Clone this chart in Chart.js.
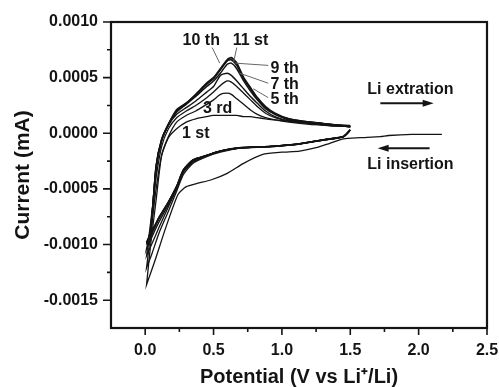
<!DOCTYPE html>
<html>
<head>
<meta charset="utf-8">
<script src="https://cdn.jsdelivr.net/npm/chart.js@4.4.1/dist/chart.umd.min.js"></script>
<style>
  html, body { margin: 0; padding: 0; background: #fff; }
  #wrap { width: 499px; height: 387px; }
</style>
</head>
<body>
<div id="wrap"><canvas id="cvChart"></canvas></div>
<script>
// ticks (V and mA)
const xMajorTicks = [0, 0.5, 1.0, 1.5, 2.0, 2.5];
const xMinorTicks = [0.25, 0.75, 1.25, 1.75, 2.25];
const yMajorTicks = [-0.0015, -0.0010, -0.0005, 0, 0.0005, 0.0010];
const yMinorTicks = [-0.00125, -0.00075, -0.00025, 0.00025, 0.00075];

// first cathodic sweep starts at open circuit
const firstSweepV = [2.17, 1.95, 1.78, 1.72, 1.57, 1.45, 1.35, 1.25, 1.13, 1.0, 0.86, 0.72, 0.6, 0.48, 0.38, 0.3, 0.24, 0.15, 0.07, 0.01];
const firstSweepI = [-0.00001, -0.00001, -0.00002, -0.00003, -0.00004, -0.00005, -0.00009, -0.00013, -0.00016, -0.00017, -0.00019, -0.00027, -0.00036, -0.00042, -0.00045, -0.00048, -0.00055, -0.00085, -0.00115, -0.00136];

// potentials of cathodic (1.5 -> 0) and anodic (0 -> 1.5) sweeps
const cathodicV = [1.5, 1.45, 1.3, 1.1, 0.9, 0.7, 0.55, 0.45, 0.35, 0.28, 0.23, 0.17, 0.1, 0.05, 0.01];
const anodicV = [0.01, 0.04, 0.08, 0.12, 0.17, 0.23, 0.3, 0.37, 0.45, 0.5, 0.55, 0.6, 0.63, 0.67, 0.72, 0.77, 0.82, 0.88, 0.95, 1.05, 1.2, 1.35, 1.5];

// currents per cycle
const cycle1Anodic = [-0.00136, -0.001, -0.0006, -0.0002, -0.00004, 0.00004, 0.0001, 0.00013, 0.00015, 0.00016, 0.00016, 0.00016, 0.00016, 0.00016, 0.00015, 0.00015, 0.00014, 0.00013, 0.00012, 0.00011, 0.0001, 0.00008, 0.00007];
const cycle3Cathodic = [0.00003, -0.00003, -0.00006, -0.0001, -0.00012, -0.00013, -0.00017, -0.00021, -0.00027, -0.00037, -0.00052, -0.0007, -0.0009, -0.00108, -0.00121];
const cycle3Anodic = [-0.00121, -0.0009, -0.0005, -0.0002, -0.00003, 0.0001, 0.00016, 0.0002, 0.00026, 0.0003, 0.00035, 0.00036, 0.00035, 0.00031, 0.00026, 0.00021, 0.00017, 0.00014, 0.00012, 0.0001, 0.00008, 0.00007, 0.00006];
const cycle5Cathodic = [0.00003, -0.00003, -0.00006, -0.0001, -0.00012, -0.00013, -0.00016, -0.0002, -0.00026, -0.00035, -0.0005, -0.00066, -0.00085, -0.00099, -0.0011];
const cycle5Anodic = [-0.0011, -0.0008, -0.0004, -0.00012, 0.00004, 0.00014, 0.0002, 0.00025, 0.00032, 0.00037, 0.00043, 0.00047, 0.00046, 0.00042, 0.00036, 0.0003, 0.00024, 0.00018, 0.00014, 0.00011, 0.00009, 0.00007, 0.00006];
const cycle7Cathodic = [0.00003, -0.00003, -0.00006, -0.0001, -0.00012, -0.00013, -0.00016, -0.0002, -0.00025, -0.00034, -0.00049, -0.00064, -0.0008, -0.00093, -0.00104];
const cycle7Anodic = [-0.00104, -0.00085, -0.00032, -0.00007, 0.00007, 0.00017, 0.00023, 0.00029, 0.00037, 0.00042, 0.00052, 0.00054, 0.00052, 0.00047, 0.0004, 0.00033, 0.00027, 0.0002, 0.00015, 0.00011, 0.00009, 0.00007, 0.00006];
const cycle9Cathodic = [0.00003, -0.00003, -0.00006, -0.0001, -0.00012, -0.00013, -0.00016, -0.0002, -0.00024, -0.00033, -0.00048, -0.00062, -0.00077, -0.0009, -0.001];
const cycle9Anodic = [-0.001, -0.00088, -0.0003, -0.00006, 0.00008, 0.00019, 0.00026, 0.00033, 0.00042, 0.00047, 0.00054, 0.00062, 0.00063, 0.00058, 0.00047, 0.00038, 0.0003, 0.00022, 0.00017, 0.00012, 0.0001, 0.00008, 0.00006];
const cycle10Cathodic = [0.00003, -0.00003, -0.00006, -0.0001, -0.00012, -0.00013, -0.00016, -0.0002, -0.00024, -0.00033, -0.00048, -0.00062, -0.00076, -0.00089, -0.00099];
const cycle10Anodic = [-0.00099, -0.00089, -0.0003, -0.00006, 0.00008, 0.0002, 0.00027, 0.00034, 0.00044, 0.00049, 0.00057, 0.00065, 0.00066, 0.00061, 0.00049, 0.0004, 0.00031, 0.00023, 0.00017, 0.00013, 0.0001, 0.00008, 0.00006];
const cycle11Cathodic = [0.00003, -0.00003, -0.00006, -0.0001, -0.00012, -0.00013, -0.00016, -0.0002, -0.00024, -0.00033, -0.00048, -0.00062, -0.00076, -0.00088, -0.00098];
const cycle11Anodic = [-0.00098, -0.0009, -0.0003, -0.00006, 0.00008, 0.00021, 0.00027, 0.00035, 0.00045, 0.0005, 0.00058, 0.00066, 0.00068, 0.00063, 0.0005, 0.00041, 0.00032, 0.00024, 0.00018, 0.00013, 0.0001, 0.00008, 0.00006];

const FONT = '"Liberation Sans", Arial, sans-serif';
const INK = '#141414';

const toPts = (vs, is) => vs.map((v, k) => ({ x: v, y: is[k] }));

function cycleLine(cathV, cathI, anodI, width) {
  return {
    data: toPts(cathV, cathI).concat(toPts(anodicV, anodI)),
    showLine: true,
    borderColor: INK,
    borderWidth: width,
    pointRadius: 0,
    tension: 0.2,
    fill: false
  };
}

const datasets = [
  cycleLine(firstSweepV, firstSweepI, cycle1Anodic, 1.3),
  cycleLine(cathodicV, cycle3Cathodic, cycle3Anodic, 1.3),
  cycleLine(cathodicV, cycle5Cathodic, cycle5Anodic, 1.3),
  cycleLine(cathodicV, cycle7Cathodic, cycle7Anodic, 1.4),
  cycleLine(cathodicV, cycle9Cathodic, cycle9Anodic, 1.5),
  cycleLine(cathodicV, cycle10Cathodic, cycle10Anodic, 1.6),
  cycleLine(cathodicV, cycle11Cathodic, cycle11Anodic, 1.8)
];

// text labels placed in data units
const notes = [
  { text: '10 th', x: 0.41, y: 0.00083 },
  { text: '11 st', x: 0.77, y: 0.00083 },
  { text: '9 th', x: 1.02, y: 0.00058 },
  { text: '7 th', x: 1.02, y: 0.00044 },
  { text: '5 th', x: 1.02, y: 0.00030 },
  { text: '3 rd', x: 0.53, y: 0.00022 },
  { text: '1 st', x: 0.37, y: 0.0 },
  { text: 'Li extration', x: 1.94, y: 0.00039 },
  { text: 'Li insertion', x: 1.94, y: -0.00028 }
];
// leader lines [x1, y1, x2, y2]
const leaders = [
  [0.49, 0.00077, 0.545, 0.00063],
  [0.67, 0.00077, 0.645, 0.00063],
  [0.90, 0.00061, 0.66, 0.00063],
  [0.90, 0.00045, 0.69, 0.00054],
  [0.90, 0.00032, 0.79, 0.00040]
];
// arrows [from x, to x, y]
const arrows = [
  [1.72, 2.11, 0.00027],
  [2.08, 1.70, -0.000134]
];

const framePlugin = {
  id: 'frame',
  afterDraw(chart) {
    const { ctx, chartArea: a, scales: { x, y } } = chart;
    ctx.save();
    ctx.strokeStyle = INK;
    ctx.lineWidth = 2.2;
    ctx.strokeRect(a.left, a.top, a.right - a.left, a.bottom - a.top);

    // tick marks, outward
    ctx.lineWidth = 1.6;
    ctx.beginPath();
    xMajorTicks.forEach(v => { const p = x.getPixelForValue(v); ctx.moveTo(p, a.bottom); ctx.lineTo(p, a.bottom + 7); });
    xMinorTicks.forEach(v => { const p = x.getPixelForValue(v); ctx.moveTo(p, a.bottom); ctx.lineTo(p, a.bottom + 4); });
    yMajorTicks.forEach(v => { const p = y.getPixelForValue(v); ctx.moveTo(a.left, p); ctx.lineTo(a.left - 8, p); });
    yMinorTicks.forEach(v => { const p = y.getPixelForValue(v); ctx.moveTo(a.left, p); ctx.lineTo(a.left - 4, p); });
    ctx.stroke();

    // leader lines
    ctx.strokeStyle = '#666';
    ctx.lineWidth = 1;
    ctx.beginPath();
    leaders.forEach(l => {
      ctx.moveTo(x.getPixelForValue(l[0]), y.getPixelForValue(l[1]));
      ctx.lineTo(x.getPixelForValue(l[2]), y.getPixelForValue(l[3]));
    });
    ctx.stroke();

    // arrows
    ctx.strokeStyle = INK;
    ctx.fillStyle = INK;
    ctx.lineWidth = 2;
    arrows.forEach(ar => {
      const x1 = x.getPixelForValue(ar[0]), x2 = x.getPixelForValue(ar[1]), py = y.getPixelForValue(ar[2]);
      const dir = Math.sign(x2 - x1);
      ctx.beginPath();
      ctx.moveTo(x1, py);
      ctx.lineTo(x2 - dir * 8, py);
      ctx.stroke();
      ctx.beginPath();
      ctx.moveTo(x2, py);
      ctx.lineTo(x2 - dir * 11, py - 3.5);
      ctx.lineTo(x2 - dir * 11, py + 3.5);
      ctx.closePath();
      ctx.fill();
    });

    // labels
    ctx.font = 'bold 16px ' + FONT;
    ctx.textAlign = 'center';
    ctx.textBaseline = 'middle';
    notes.forEach(n => ctx.fillText(n.text, x.getPixelForValue(n.x), y.getPixelForValue(n.y)));
    ctx.restore();
  }
};

new Chart(document.getElementById('cvChart'), {
  type: 'scatter',
  data: { datasets },
  options: {
    responsive: true,
    maintainAspectRatio: false,
    animation: false,
    layout: { padding: { top: 22, right: 12, left: 0, bottom: 0 } },
    plugins: { legend: { display: false }, tooltip: { enabled: false } },
    scales: {
      x: {
        type: 'linear',
        min: -0.25,
        max: 2.5,
        afterBuildTicks: s => { s.ticks = xMajorTicks.map(v => ({ value: v })); },
        afterFit: s => { s.height = 59; s.paddingLeft = 0; s.paddingRight = 0; },
        grid: { display: false, drawTicks: false },
        border: { display: false },
        ticks: {
          padding: 13,
          color: INK,
          font: { family: FONT, size: 16, weight: 'bold' },
          callback: v => v.toFixed(1)
        },
        title: {
          display: true,
          text: 'Potential (V vs Li\u207A/Li)',
          color: INK,
          font: { family: FONT, size: 20, weight: 'bold', lineHeight: 1.0 },
          padding: { top: 0, bottom: 0 }
        }
      },
      y: {
        type: 'linear',
        min: -0.00175,
        max: 0.001,
        afterBuildTicks: s => { s.ticks = yMajorTicks.map(v => ({ value: v })); },
        afterFit: s => { s.width = 111; s.paddingTop = 0; s.paddingBottom = 0; },
        grid: { display: false, drawTicks: false },
        border: { display: false },
        ticks: {
          padding: 13,
          color: INK,
          font: { family: FONT, size: 16, weight: 'bold' },
          callback: v => v.toFixed(4)
        },
        title: {
          display: true,
          text: 'Current (mA)',
          color: INK,
          font: { family: FONT, size: 21, weight: 'bold', lineHeight: 1.0 },
          padding: { top: 13, bottom: 0 }
        }
      }
    }
  },
  plugins: [framePlugin]
});
</script>
</body>
</html>
